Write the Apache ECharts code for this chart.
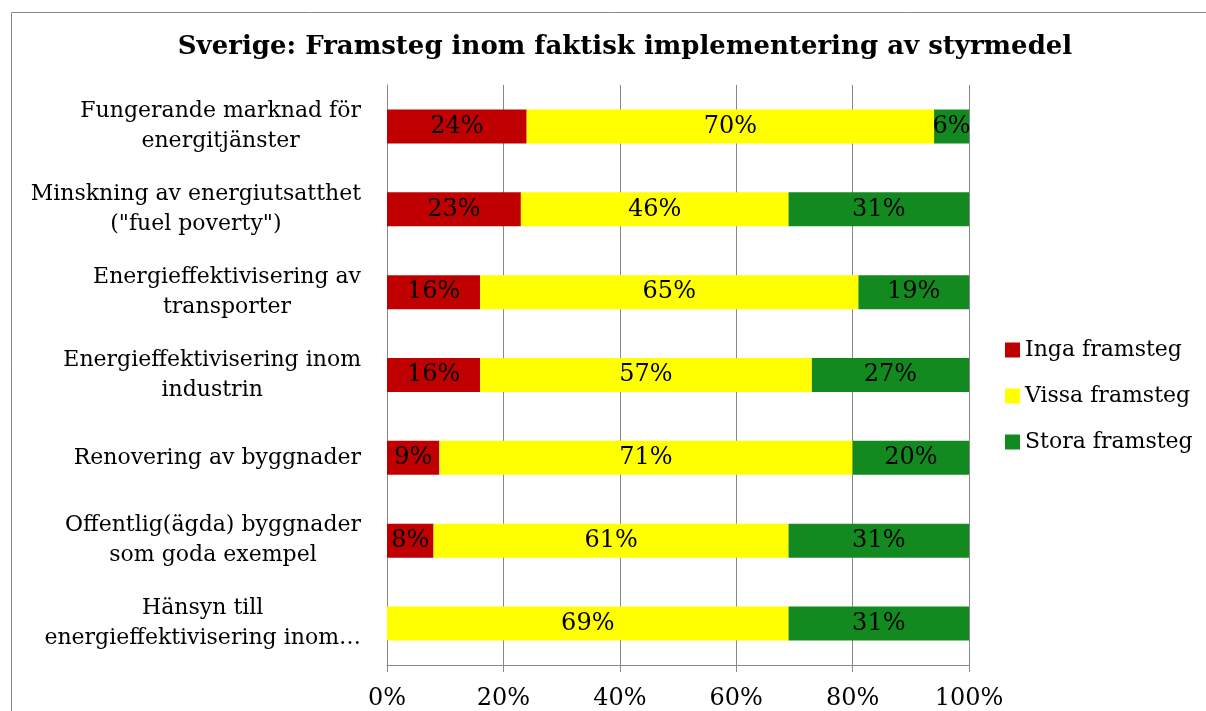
<!DOCTYPE html>
<html>
<head>
<meta charset="utf-8">
<script src="https://cdn.jsdelivr.net/npm/echarts@6/dist/echarts.min.js"></script>
<style>
  html, body { margin: 0; padding: 0; background: #fff; }
  #chart { width: 1206px; height: 711px; }
</style>
</head>
<body>
<div id="chart"></div>
<script>
// kategorier uppifrån och ned
var categories = [
  'Fungerande marknad för\nenergitjänster',
  'Minskning av energiutsatthet\n("fuel poverty")',
  'Energieffektivisering av\ntransporter',
  'Energieffektivisering inom\nindustrin',
  'Renovering av byggnader',
  'Offentlig(ägda) byggnader\nsom goda exempel',
  'Hänsyn till\nenergieffektivisering inom…'
];
var ingaFramsteg = [24, 23, 16, 16, 9, 8, 0];
var vissaFramsteg = [70, 46, 65, 57, 71, 61, 69];
var storaFramsteg = [6, 31, 19, 27, 20, 31, 31];

var font = 'DejaVu Serif';

var barLabel = {
  show: true,
  position: 'inside',
  color: '#000',
  fontFamily: font,
  fontSize: 24,
  formatter: function (p) { return p.value ? p.value + '%' : ''; }
};

function serie(name, data, color) {
  return {
    name: name,
    type: 'bar',
    stack: 'total',
    data: data,
    barWidth: 34,
    itemStyle: { color: color },
    label: barLabel
  };
}

var myChart = echarts.init(document.getElementById('chart'));
myChart.setOption({
  animation: false,
  backgroundColor: '#fff',
  title: {
    text: 'Sverige: Framsteg inom faktisk implementering av styrmedel',
    left: 620,
    top: 29,
    textAlign: 'center',
    textStyle: { fontFamily: font, fontWeight: 'bold', fontSize: 26, color: '#000' }
  },
  graphic: [{
    type: 'rect',
    shape: { x: 11.5, y: 12.5, width: 1300, height: 800 },
    style: { fill: 'none', stroke: '#888', lineWidth: 1 },
    silent: true
  }],
  legend: {
    orient: 'vertical',
    left: 1000,
    top: 334,
    itemWidth: 15,
    itemHeight: 15,
    itemGap: 24,
    icon: 'rect',
    textStyle: { fontFamily: font, fontSize: 22, color: '#000' },
    data: ['Inga framsteg', 'Vissa framsteg', 'Stora framsteg']
  },
  grid: { left: 387, right: 237, top: 85, bottom: 46 },
  xAxis: {
    type: 'value',
    min: 0,
    max: 100,
    interval: 20,
    axisLine: { show: true, onZero: false, lineStyle: { color: '#888' } },
    axisTick: { show: true, length: 7, lineStyle: { color: '#888' } },
    splitLine: { lineStyle: { color: '#888' } },
    axisLabel: { formatter: '{value}%', fontFamily: font, fontSize: 24, color: '#000', margin: 22 }
  },
  yAxis: {
    type: 'category',
    inverse: true,
    data: categories,
    axisLine: { lineStyle: { color: '#888' } },
    axisTick: { length: 5, lineStyle: { color: '#888' } },
    axisLabel: {
      align: 'right',
      margin: 26,
      // varje rad centreras inom etikettblocket
      formatter: function (v) {
        return v.split('\n').map(function (l) { return '{c|' + l + '}'; }).join('\n');
      },
      rich: {
        c: { align: 'center', fontFamily: font, fontSize: 22, color: '#000', lineHeight: 30 }
      }
    }
  },
  series: [
    serie('Inga framsteg', ingaFramsteg, '#C00000'),
    serie('Vissa framsteg', vissaFramsteg, '#FFFF00'),
    serie('Stora framsteg', storaFramsteg, '#128A1F')
  ]
});
</script>
</body>
</html>
